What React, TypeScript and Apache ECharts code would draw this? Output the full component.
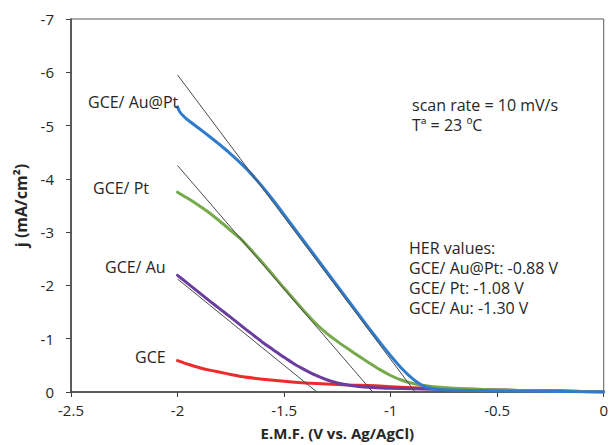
import React, { useEffect, useRef } from "react";
import * as echarts from "echarts";

// Potential (V vs. Ag/AgCl) and current density (mA/cm²)
const auPtX = [-2.0, -1.99, -1.97, -1.95, -1.9, -1.85, -1.8, -1.75, -1.7, -1.65, -1.6, -1.55, -1.5, -1.4, -1.3, -1.2, -1.1, -1.05, -1.0, -0.95, -0.9, -0.85, -0.8, -0.75, -0.7, -0.5, -0.2, 0];
const auPtY = [-5.35, -5.26, -5.17, -5.1, -4.95, -4.795, -4.635, -4.465, -4.28, -4.075, -3.845, -3.595, -3.33, -2.795, -2.26, -1.725, -1.19, -0.93, -0.68, -0.45, -0.26, -0.12, -0.06, -0.04, -0.035, -0.02, -0.01, 0];

const ptX = [-2.0, -1.95, -1.9, -1.85, -1.8, -1.75, -1.7, -1.6, -1.5, -1.4, -1.35, -1.3, -1.25, -1.2, -1.15, -1.1, -1.05, -1.0, -0.95, -0.9, -0.85, -0.8, -0.7, -0.6, -0.4, -0.2, 0];
const ptY = [-3.75, -3.63, -3.5, -3.36, -3.2, -3.03, -2.86, -2.42, -1.95, -1.49, -1.28, -1.1, -0.95, -0.81, -0.675, -0.545, -0.42, -0.31, -0.225, -0.165, -0.125, -0.1, -0.07, -0.05, -0.03, -0.015, 0];

const auX = [-2.0, -1.95, -1.9, -1.85, -1.8, -1.75, -1.7, -1.65, -1.6, -1.55, -1.5, -1.45, -1.4, -1.35, -1.3, -1.25, -1.2, -1.15, -1.1, -1.0, -0.8, -0.6, -0.4, -0.2, 0];
const auY = [-2.19, -2.03, -1.87, -1.71, -1.555, -1.4, -1.24, -1.085, -0.93, -0.79, -0.65, -0.52, -0.41, -0.31, -0.23, -0.17, -0.13, -0.105, -0.09, -0.07, -0.05, -0.04, -0.03, -0.02, 0];

const gceX = [-2.0, -1.95, -1.9, -1.85, -1.8, -1.75, -1.7, -1.6, -1.5, -1.4, -1.3, -1.2, -1.1, -1.0, -0.9, -0.8, -0.6, -0.4, -0.2, 0];
const gceY = [-0.59, -0.52, -0.46, -0.41, -0.37, -0.33, -0.29, -0.24, -0.2, -0.17, -0.15, -0.13, -0.12, -0.1, -0.08, -0.07, -0.05, -0.03, -0.02, 0];

// Tangent lines (start at -2 V, end at x-intercept)
const tangentAuPt = [[-2.0, -5.95], [-0.885, 0]];
const tangentPt = [[-2.0, -4.25], [-1.084, 0]];
const tangentAu = [[-2.0, -2.12], [-1.346, 0]];

const xTicks = { min: -2.5, max: 0, interval: 0.5 };
const yTicks = { min: -7, max: 0, interval: 1 };

const curveLabels = ["GCE/ Au@Pt", "GCE/ Pt", "GCE/ Au", "GCE"];
const infoLines = ["scan rate = 10 mV/s", "Tª = 23 ºC"];
const herLines = ["HER values:", "GCE/ Au@Pt: -0.88 V", "GCE/ Pt: -1.08 V", "GCE/ Au: -1.30 V"];

const zip = (xs: number[], ys: number[]) => xs.map((x, i) => [x, ys[i]]);

const FONT = "'Open Sans', sans-serif";
const TXT = "#262626";

export default function App() {
  const ref = useRef<HTMLDivElement>(null);
  useEffect(() => {
    if (!ref.current) return;
    const chart = echarts.init(ref.current, undefined, { renderer: "svg" });
    const curve = (name: string, xs: number[], ys: number[], color: string) => ({
      name,
      type: "line",
      data: zip(xs, ys),
      showSymbol: false,
      smooth: 0.2,
      lineStyle: { color, width: 3, cap: "round", join: "round" },
      z: 2,
    });
    const tangent = (name: string, d: number[][]) => ({
      name,
      type: "line",
      data: d,
      showSymbol: false,
      lineStyle: { color: "#4a4a4a", width: 1 },
      z: 3,
    });
    const textEl = (t: string, x: number, y: number) => ({
      type: "text",
      x,
      y,
      style: {
        text: t,
        fill: TXT,
        fontFamily: FONT,
        fontSize: 16,
        lineHeight: 16,
        align: "left",
        verticalAlign: "middle",
      },
      z: 10,
    });
    chart.setOption({
      animation: false,
      backgroundColor: "#fff",
      grid: {
        left: 71,
        right: 5,
        top: 19,
        bottom: 49,
        show: true,
        borderColor: "#595959",
        borderWidth: 1,
      },
      xAxis: {
        type: "value",
        ...xTicks,
        name: "E.M.F. (V vs. Ag/AgCl)",
        nameLocation: "middle",
        nameGap: 33,
        nameTextStyle: { fontFamily: FONT, fontSize: 15, fontWeight: "bold", color: TXT },
        axisLine: { show: true, onZero: false, lineStyle: { color: "#404040", width: 1.5 } },
        axisTick: { show: true, inside: false, length: 5, lineStyle: { color: "#404040" } },
        axisLabel: { fontFamily: FONT, fontSize: 15, color: TXT, margin: 10 },
        splitLine: { show: false },
      },
      yAxis: {
        type: "value",
        ...yTicks,
        inverse: true,
        name: "j (mA/cm²)",
        nameLocation: "middle",
        nameGap: 42,
        nameTextStyle: { fontFamily: FONT, fontSize: 16, fontWeight: "bold", color: TXT },
        axisLine: { show: true, onZero: false, lineStyle: { color: "#404040", width: 1.5 } },
        axisTick: { show: true, inside: false, length: 5, lineStyle: { color: "#404040" } },
        axisLabel: { fontFamily: FONT, fontSize: 15, color: TXT, margin: 17 },
        splitLine: { show: false },
      },
      series: [
        curve("GCE", gceX, gceY, "#ee2b2b"),
        curve("GCE/ Au", auX, auY, "#6a3d9e"),
        curve("GCE/ Pt", ptX, ptY, "#78aa4c"),
        curve("GCE/ Au@Pt", auPtX, auPtY, "#2f7bcc"),
        tangent("t1", tangentAuPt),
        tangent("t2", tangentPt),
        tangent("t3", tangentAu),
      ],
      graphic: [
        textEl(curveLabels[0], 88, 102),
        textEl(curveLabels[1], 93, 188),
        textEl(curveLabels[2], 105, 267),
        textEl(curveLabels[3], 135, 357),
        textEl(infoLines[0], 412, 105),
        textEl(infoLines[1], 412, 125),
        textEl(herLines[0], 409, 248),
        textEl(herLines[1], 409, 268),
        textEl(herLines[2], 409, 288),
        textEl(herLines[3], 409, 308),
      ],
    });
    return () => chart.dispose();
  }, []);
  return (
    <div
      ref={ref}
      style={{ position: "fixed", left: 0, top: 0, width: 611, height: 445, background: "#fff" }}
    />
  );
}
